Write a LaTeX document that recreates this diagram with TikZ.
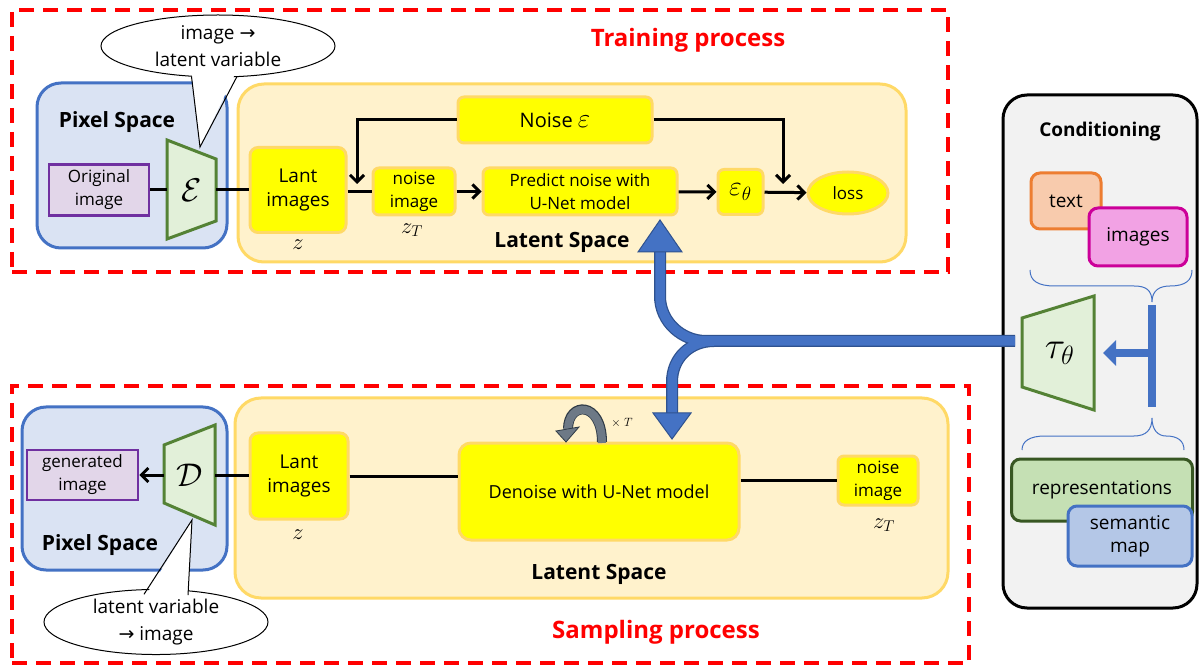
\documentclass[tikz,border=0pt]{standalone}
\usepackage{fontspec}
\setmainfont{Open Sans}
\newfontfamily\arrfont{DejaVu Sans}
\usetikzlibrary{shapes.geometric,arrows.meta,calc}
\newcommand{\mscl}[2]{\scalebox{#1}{$#2$}}
\definecolor{pxfill}{HTML}{DAE3F3}
\definecolor{pxline}{HTML}{4472C4}
\definecolor{bluedark}{HTML}{2F528F}
\definecolor{ltfill}{HTML}{FFF2CC}
\definecolor{ltline}{HTML}{FFD966}
\definecolor{ylw}{HTML}{FFFF00}
\definecolor{trfill}{HTML}{E2F0D9}
\definecolor{trline}{HTML}{548235}
\definecolor{imfill}{HTML}{E2D6E9}
\definecolor{imline}{HTML}{7030A0}
\definecolor{cdfill}{HTML}{F2F2F2}
\definecolor{txfill}{HTML}{F8CBAD}
\definecolor{txline}{HTML}{ED7D31}
\definecolor{igfill}{HTML}{F2A2E4}
\definecolor{igline}{HTML}{CC0099}
\definecolor{rpfill}{HTML}{C5E0B4}
\definecolor{rpline}{HTML}{385723}
\definecolor{smfill}{HTML}{B4C7E7}
\definecolor{gry}{HTML}{6D7986}
\definecolor{grydark}{HTML}{2F3B47}
\begin{document}
\begin{tikzpicture}[x=1pt,y=-1pt,
  every node/.style={inner sep=0pt, align=center},
  reddash/.style={draw=red, line width=3.5pt, dash pattern=on 15pt off 9pt},
  pxbox/.style={draw=pxline, fill=pxfill, line width=3pt, rounded corners=24pt},
  ltbox/.style={draw=ltline, fill=ltfill, line width=3pt, rounded corners=26pt},
  ybox/.style={draw=ltline, fill=ylw, line width=3pt, rounded corners=8pt},
  imgbox/.style={draw=imline, fill=imfill, line width=2.5pt},
  trap/.style={draw=trline, fill=trfill, line width=3pt, line join=miter},
  lbl/.style={font=\fontsize{21}{24}\selectfont\bfseries},
  ttl/.style={font=\fontsize{24}{28}\selectfont\bfseries, text=red},
  txt/.style={font=\fontsize{17}{23}\selectfont},
  bigtxt/.style={font=\fontsize{19}{24}\selectfont},
  mathlbl/.style={font=\fontsize{17}{20}\selectfont},
  conn/.style={line width=3pt},
  arr/.style={line width=3pt, -{Straight Barb[length=7pt,width=14pt]}},
  call/.style={ellipse, draw, fill=white, line width=1pt, font=\fontsize{19}{27}\selectfont},
  cbox/.style={line width=3pt, rounded corners=9pt, font=\fontsize{19}{23}\selectfont},
  brace/.style={draw=pxline, line width=1pt},
  ]
\fill[white] (0,0) rectangle (1203,668);
\useasboundingbox (0,0) rectangle (1203,668);

% ===== Training process =====
\node[reddash, minimum width=936, minimum height=262] (trainbox) at (480,141) {};
\node[ttl] (traintitle) at (688,40) {Training process};
\node[pxbox, minimum width=190, minimum height=165] (px1) at (132,165.5) {};
\node[lbl] (px1lbl) at (117,122) {Pixel Space};
\node[imgbox, minimum width=100, minimum height=51, txt] (orig) at (99,190) {Original\\image};
\draw[trap] (167,140) -- (216,159) -- (216,221) -- (167,239) -- cycle;
\node[minimum width=49, minimum height=99, mathlbl] (enc) at (191.5,190) {\mscl{1.9}{\mathcal{E}}};

\node[ltbox, minimum width=668, minimum height=178] (lt1) at (572,173) {};
\node[lbl] (lt1lbl) at (562,242) {Latent Space};
\node[ybox, minimum width=96, minimum height=85, bigtxt] (lant1) at (298,190) {Lant\\images};
\node[mathlbl] (z1) at (298,245) {\mscl{1.3}{z}};
\node[ybox, rounded corners=6pt, minimum width=82, minimum height=47, txt] (nimg1) at (414,191.5) {noise\\image};
\node[mathlbl] (zT1) at (412,230) {\mscl{1.3}{z_T}};
\node[ybox, rounded corners=6pt, minimum width=194, minimum height=47, txt] (pred) at (580,191.5) {Predict noise with\\U-Net model};
\node[ybox, rounded corners=6pt, minimum width=45, minimum height=45, mathlbl] (epsth) at (740.5,192) {\mscl{1.6}{\varepsilon_\theta}};
\node[ellipse, draw=ltline, fill=ylw, line width=3pt, minimum width=80, minimum height=42, txt] (loss) at (848,193) {loss};
\node[ybox, rounded corners=6pt, minimum width=194, minimum height=46, font=\fontsize{20}{24}\selectfont] (noise) at (555,120) {Noise \mscl{1.3}{\varepsilon}};
\coordinate (c1) at (357,184);
\coordinate (c2) at (783,184);

\draw[conn] (orig) -- (enc);
\draw[conn] (enc) -- (lant1.west |- enc);
\draw[conn] (lant1.east |- nimg1) -- (nimg1);
\draw[arr] (nimg1) -- (pred);
\draw[arr] (pred) -- (epsth);
\draw[arr] (epsth) -- (loss);
\draw[arr] (noise.west) -| (c1);
\draw[arr] (noise.east) -| (c2);

\node[call, minimum width=234, minimum height=62] (cl1) at (218,46) {image {\arrfont →}\\latent variable};
\coordinate (cl1tip) at (200,147);
\fill[white] (191.5,71) -- (cl1tip) -- (236.5,71) -- cycle;
\draw[line width=1pt] (191.5,76.5) -- (cl1tip) -- (237,76.5);

% ===== Sampling process =====
\node[reddash, minimum width=957, minimum height=277] (sampbox) at (490.5,524.5) {};
\node[ttl] (samptitle) at (656,632) {Sampling process};
\node[pxbox, minimum width=205, minimum height=163] (px2) at (124.5,488.5) {};
\node[lbl] (px2lbl) at (100,545) {Pixel Space};
\node[imgbox, minimum width=111, minimum height=50, txt] (gen) at (82.5,475) {generated\\image};
\draw[trap] (164,445) -- (215,425) -- (215,525) -- (164,503) -- cycle;
\node[minimum width=51, minimum height=100, mathlbl] (dec) at (189.5,475) {\mscl{1.9}{\mathcal{D}}};

\node[ltbox, minimum width=713, minimum height=200] (lt2) at (591.5,498) {};
\node[lbl] (lt2lbl) at (599,574) {Latent Space};
\node[ybox, minimum width=98, minimum height=86, bigtxt] (lant2) at (299,476) {Lant\\images};
\node[mathlbl] (z2) at (298,535) {\mscl{1.3}{z}};
\node[ybox, rounded corners=12pt, minimum width=280, minimum height=97, font=\fontsize{18}{22}\selectfont] (den) at (599,491.5) {Denoise with U-Net model};
\node[ybox, rounded corners=6pt, minimum width=80, minimum height=49, txt] (nimg2) at (878,480.5) {noise\\image};
\node[mathlbl] (zT2) at (884,525) {\mscl{1.3}{z_T}};

\draw[arr] (dec.west) -- (gen.east);
\draw[conn] (dec.east) -- (lant2.west |- dec.east);
\draw[conn] (lant2.east) -- (lant2.east -| den.west);
\draw[conn] (den.east |- nimg2.west) -- (nimg2.west);

% repeat arrow
\draw[line width=10pt, grydark] (602,442) .. controls (602,401) and (568,401) .. (568,429);
\draw[line width=8pt, gry] (602,443) .. controls (602,401) and (568,401) .. (568,430);
\filldraw[fill=gry, draw=grydark, line width=0.8pt] (556,431) -- (579,427) -- (566,442) -- cycle;
\node[font=\fontsize{13}{15}\selectfont] (xT) at (622,423) {$\times\ T$};

\node[call, minimum width=224, minimum height=56] (cl2) at (156,622) {latent variable\\{\arrfont →} image};
\coordinate (cl2tip) at (192,520);
\fill[white] (144.5,597.5) -- (cl2tip) -- (187.5,597.5) -- cycle;
\draw[line width=1pt] (144,594.3) -- (cl2tip) -- (188,595.2);

% ===== Conditioning =====
\node[draw, line width=3pt, fill=cdfill, rounded corners=24pt, minimum width=194, minimum height=513] (cond) at (1100,351.5) {};
\node[font=\fontsize{19}{23}\selectfont\bfseries] (condlbl) at (1100,132) {Conditioning};
\node[cbox, draw=txline, fill=txfill, minimum width=70, minimum height=56] (ctext) at (1066,201) {text};
\node[cbox, draw=igline, fill=igfill, minimum width=98, minimum height=58] (cimg) at (1138,237) {images};
\draw[brace] (1030,270) .. controls (1030,281) and (1038,286) .. (1055,286) -- (1134,286) .. controls (1146,286) and (1152,290) .. (1152,302)
  .. controls (1152,290) and (1160,286) .. (1170,286) .. controls (1186,286) and (1192,280) .. (1192,270);
\draw[trap] (1022,318) -- (1094,296) -- (1094,410) -- (1022,387) -- cycle;
\node[minimum width=72, minimum height=114, mathlbl] (tau) at (1060,353) {\mscl{2.2}{\tau_\theta}};
\coordinate (bartop) at (1152,305);
\coordinate (barbot) at (1152,407);
\coordinate (barmid) at (1152,353);
\draw[line width=8pt, pxline] (bartop) -- (barbot);
\draw[line width=8pt, pxline, -{Triangle[length=13pt,width=25pt]}] (barmid) -- (1103,353);
\draw[brace] (1022,450) .. controls (1022,441) and (1030,436) .. (1045,436) -- (1134,436) .. controls (1146,436) and (1152,430) .. (1152,418)
  .. controls (1152,430) and (1158,436) .. (1166,436) .. controls (1178,436) and (1184,441) .. (1184,450);
\node[cbox, draw=rpline, fill=rpfill, minimum width=181, minimum height=62] (repr) at (1102,490) {representations};
\node[cbox, draw=pxline, fill=smfill, minimum width=124, minimum height=60] (sem) at (1130,536) {semantic\\map};

% ===== Blue conditioning connector =====
\coordinate (condin) at (1015,341);
\coordinate (upbase) at (660,252);
\coordinate (uptip) at (660,220);
\coordinate (dnbase) at (672,413);
\coordinate (dntip) at (672,439);
\draw[line width=12pt, bluedark] (condin) -- (706,341) .. controls (682,341) and (660,322) .. (660,296) -- (upbase);
\draw[line width=12pt, bluedark] (714,341) .. controls (690,341) and (672,358) .. (672,382) -- (dnbase);
\draw[line width=9.5pt, pxline] (condin) -- (706,341) .. controls (682,341) and (660,322) .. (660,296) -- (upbase);
\draw[line width=9.5pt, pxline] (714,341) .. controls (690,341) and (672,358) .. (672,382) -- (dnbase);
\filldraw[fill=pxline, draw=bluedark, line width=1pt] (638,252) -- (682,252) -- (uptip) -- cycle;
\filldraw[fill=pxline, draw=bluedark, line width=1pt] (653,413) -- (691,413) -- (dntip) -- cycle;
\end{tikzpicture}
\end{document}
